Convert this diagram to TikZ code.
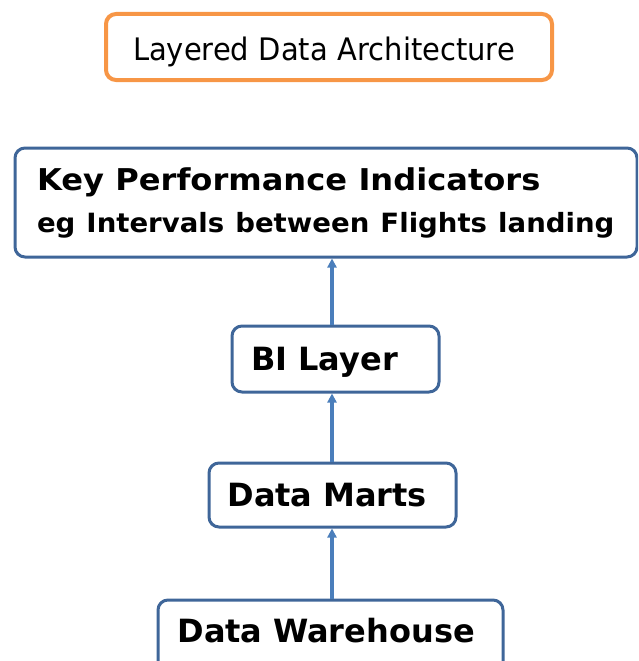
\documentclass[tikz,border=0pt]{standalone}
\usepackage{fontspec}
\usepackage{graphicx}
\setmainfont{DejaVu Sans}
\usetikzlibrary{arrows.meta}
\definecolor{orangeb}{HTML}{F79646}
\definecolor{blueb}{HTML}{3F6699}
\definecolor{bluea}{HTML}{4A7EBB}
\begin{document}
\begin{tikzpicture}[x=1pt,y=-1pt,
  box/.style={draw=blueb, line width=3pt, rounded corners=10pt, fill=white,
    anchor=north west, align=left, font=\bfseries\fontsize{32}{38}\selectfont},
  conn/.style={draw=bluea, line width=3.6pt, -{Triangle[width=9pt,length=9pt]}}]
\useasboundingbox (0,0) rectangle (638,661);
\clip (0,0) rectangle (638,661);

% title
\node[draw=orangeb, line width=4pt, rounded corners=10pt, anchor=north west,
  minimum height=66pt, text width=392pt, inner xsep=27pt, align=left,
  text height=35pt, text depth=8pt,
  font=\fontsize{31}{36}\selectfont] (title) at (104,12)
  {\scalebox{0.934}[1]{Layered Data Architecture}};

% KPI
\node[box, minimum height=109pt, text width=578pt, inner xsep=22pt]
  (kpi) at (13.5,146.5)
  {\scalebox{1.07}[1]{\fontsize{30}{34}\selectfont Key Performance Indicators}\\[4pt]%
   \scalebox{1.04}[1]{\fontsize{26.5}{30}\selectfont eg Intervals between Flights landing}};

% BI layer
\node[box, minimum height=66pt, text width=168pt, inner xsep=19.5pt,
  text height=27pt, text depth=5pt]
  (bi) at (230.5,324.5) {BI Layer};

% Data marts
\node[box, minimum height=64pt, text width=210pt, inner xsep=18.5pt]
  (dm) at (207.5,461.5) {Data Marts};

% Data warehouse
\node[box, text height=24pt, text depth=30pt, inner ysep=18pt, text width=306pt, inner xsep=19.5pt]
  (dw) at (156.5,598.5) {Data Warehouse};

\coordinate (ax) at (332,0);
\draw[conn] (dw.north -| ax) -- (dm.south -| ax);
\draw[conn] (dm.north -| ax) -- (bi.south -| ax);
\draw[conn] (bi.north -| ax) -- (kpi.south -| ax);
\end{tikzpicture}
\end{document}
